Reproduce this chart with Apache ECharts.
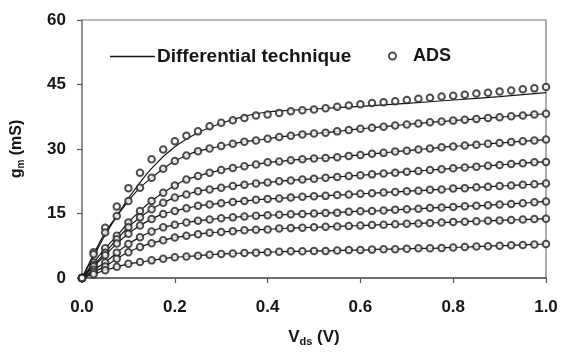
<!DOCTYPE html>
<html>
<head>
<meta charset="utf-8">
<script src="https://cdn.jsdelivr.net/npm/echarts@6/dist/echarts.min.js"></script>
<style>
  html, body { margin: 0; padding: 0; background: #fff; }
  #chart { width: 561px; height: 352px; }
</style>
</head>
<body>
<div id="chart"></div>
<script>
// Vds sample points (V), ADS markers every 0.025 V
const vds = [0, 0.025, 0.05, 0.075, 0.1, 0.125, 0.15, 0.175, 0.2, 0.225, 0.25, 0.275, 0.3, 0.325, 0.35, 0.375, 0.4, 0.425, 0.45, 0.475, 0.5,
             0.525, 0.55, 0.575, 0.6, 0.625, 0.65, 0.675, 0.7, 0.725, 0.75, 0.775, 0.8, 0.825, 0.85, 0.875, 0.9, 0.925, 0.95, 0.975, 1.0];

// ADS gm (mS), one array per gate bias (top to bottom)
const ads1 = [0, 6.0, 11.7, 16.6, 20.9, 24.5, 27.6, 29.9, 31.8, 33.1, 34.1, 35.3, 36.1, 36.7, 37.2, 37.8, 38.0, 38.4, 38.8, 39.0, 39.2,
              39.5, 39.8, 40.1, 40.4, 40.7, 40.9, 41.1, 41.4, 41.7, 41.9, 42.2, 42.4, 42.6, 42.9, 43.1, 43.4, 43.6, 43.9, 44.1, 44.4];
const ads2 = [0, 5.5, 10.6, 14.4, 17.9, 21.0, 23.3, 25.4, 27.2, 28.5, 29.5, 30.1, 30.7, 31.2, 31.7, 32.0, 32.4, 32.8, 33.1, 33.4, 33.6,
              33.8, 34.1, 34.4, 34.7, 34.95, 35.2, 35.45, 35.7, 35.95, 36.2, 36.4, 36.6, 36.8, 37.0, 37.2, 37.4, 37.6, 37.8, 38.0, 38.2];
const ads3 = [0, 3.6, 6.9, 9.8, 12.9, 15.6, 17.9, 19.8, 21.5, 22.9, 23.7, 24.5, 25.1, 25.6, 26.0, 26.4, 26.9, 27.1, 27.4, 27.6, 27.8,
              27.9, 28.1, 28.4, 28.6, 28.9, 29.1, 29.4, 29.6, 29.9, 30.1, 30.4, 30.6, 30.8, 31.0, 31.2, 31.4, 31.6, 31.8, 32.0, 32.2];
const ads4 = [0, 3.0, 5.9, 9.0, 11.8, 14.1, 16.0, 17.5, 18.7, 19.4, 20.2, 20.6, 21.0, 21.4, 21.7, 22.0, 22.2, 22.5, 22.7, 22.9, 23.1,
              23.3, 23.5, 23.7, 23.9, 24.1, 24.3, 24.5, 24.7, 24.9, 25.1, 25.3, 25.5, 25.7, 25.9, 26.1, 26.3, 26.5, 26.7, 26.9, 27.0];
const ads5 = [0, 2.7, 5.3, 8.0, 10.3, 12.2, 13.7, 14.9, 15.6, 16.2, 16.8, 17.1, 17.4, 17.7, 17.9, 18.2, 18.4, 18.5, 18.7, 18.9, 19.0,
              19.1, 19.3, 19.4, 19.6, 19.7, 19.9, 20.0, 20.2, 20.3, 20.5, 20.6, 20.8, 20.9, 21.1, 21.2, 21.4, 21.5, 21.7, 21.8, 22.0];
const ads6 = [0, 1.9, 3.6, 5.9, 7.9, 9.5, 10.8, 11.8, 12.4, 12.9, 13.3, 13.6, 13.9, 14.1, 14.3, 14.5, 14.6, 14.7, 14.8, 14.9, 15.0,
              15.1, 15.2, 15.4, 15.5, 15.6, 15.7, 15.9, 16.0, 16.1, 16.3, 16.4, 16.5, 16.7, 16.8, 16.9, 17.1, 17.2, 17.4, 17.6, 17.8];
const ads7 = [0, 1.4, 2.7, 4.5, 6.0, 7.2, 8.1, 8.8, 9.4, 9.8, 10.2, 10.5, 10.7, 10.9, 11.1, 11.2, 11.3, 11.5, 11.6, 11.7, 11.8,
              11.9, 12.0, 12.1, 12.2, 12.3, 12.4, 12.5, 12.6, 12.7, 12.8, 12.9, 13.0, 13.1, 13.2, 13.3, 13.4, 13.5, 13.6, 13.7, 13.8];
const ads8 = [0, 0.9, 1.8, 2.6, 3.3, 3.7, 4.1, 4.5, 4.8, 5.0, 5.2, 5.4, 5.6, 5.7, 5.8, 5.9, 6.0, 6.1, 6.2, 6.2, 6.3,
              6.3, 6.4, 6.5, 6.5, 6.6, 6.7, 6.7, 6.8, 6.9, 6.9, 7.0, 7.1, 7.2, 7.3, 7.4, 7.5, 7.6, 7.7, 7.8, 7.9];

// Differential technique curves: top curve read separately, others follow the ADS points
const lineX1 = [0, 0.025, 0.05, 0.1, 0.15, 0.2, 0.25, 0.3, 0.35, 0.4, 0.5, 0.6, 0.7, 0.8, 0.9, 1.0];
const diff1  = [0, 5.0, 10.0, 18.5, 25.5, 30.5, 33.8, 36.0, 37.6, 38.6, 39.3, 39.9, 40.6, 41.4, 42.2, 43.1];

const xTicks = [0, 0.2, 0.4, 0.6, 0.8, 1.0];
const yTicks = [0, 15, 30, 45, 60];

const adsSets = [ads1, ads2, ads3, ads4, ads5, ads6, ads7, ads8];
const lineSets = [[lineX1, diff1], [vds, ads2], [vds, ads3], [vds, ads4], [vds, ads5], [vds, ads6], [vds, ads7], [vds, ads8]];

const INK = '#161616';
const MARK = '#222';
const FONT = 'Liberation Sans, Arial, sans-serif';
const pair = (xs, ys) => xs.map((x, i) => [x, ys[i]]);

const series = [];
lineSets.forEach(([xs, ys]) => {
  series.push({
    name: 'Differential technique', type: 'line', data: pair(xs, ys),
    smooth: 0.3, showSymbol: false, symbol: 'none',
    lineStyle: { color: INK, width: 1.2 }, itemStyle: { color: INK },
    z: 2, silent: true, animation: false
  });
});
adsSets.forEach(ys => {
  series.push({
    name: 'ADS', type: 'scatter', data: pair(vds, ys),
    symbol: 'emptyCircle', symbolSize: 6.5,
    itemStyle: { color: MARK, borderColor: MARK, borderWidth: 1.5 },
    z: 3, silent: true, animation: false
  });
});

const chart = echarts.init(document.getElementById('chart'), null, { renderer: 'canvas' });
chart.setOption({
  animation: false,
  backgroundColor: '#fff',
  grid: { left: 82, right: 15, top: 20, bottom: 73, show: true, borderColor: '#777', borderWidth: 1.2, backgroundColor: 'transparent' },
  legend: [
    {
      data: [{ name: 'Differential technique', icon: 'rect', itemStyle: { color: INK } }],
      left: 105, top: 42, itemWidth: 45, itemHeight: 1.5, itemGap: 5,
      textStyle: { color: INK, fontFamily: FONT, fontWeight: 'bold', fontSize: 19, padding: [0, 0, 0, -3] }
    },
    {
      data: [{ name: 'ADS', icon: 'emptyCircle', itemStyle: { color: MARK, borderColor: MARK, borderWidth: 1.5 } }],
      left: 383, top: 42, itemWidth: 7, itemHeight: 7, itemGap: 5,
      textStyle: { color: INK, fontFamily: FONT, fontWeight: 'bold', fontSize: 18, padding: [0, 0, 0, 12] }
    }
  ],
  xAxis: {
    type: 'value', min: xTicks[0], max: xTicks[xTicks.length - 1], interval: 0.2,
    axisLine: { show: true, lineStyle: { color: '#555', width: 1.5 } },
    axisTick: { show: true, length: 5, lineStyle: { color: '#555', width: 1.2 } },
    axisLabel: { color: INK, fontFamily: FONT, fontWeight: 'bold', fontSize: 17, margin: 21, formatter: v => v.toFixed(1) },
    splitLine: { show: false },
    name: '{v|V}{s|ds}{v| (V)}', nameLocation: 'middle', nameGap: 50,
    nameTextStyle: {
      rich: {
        v: { color: INK, fontFamily: FONT, fontWeight: 'bold', fontSize: 17 },
        s: { color: INK, fontFamily: FONT, fontWeight: 'bold', fontSize: 11, verticalAlign: 'bottom', padding: [8, 0, 0, 0] }
      }
    }
  },
  yAxis: {
    type: 'value', min: yTicks[0], max: yTicks[yTicks.length - 1], interval: 15,
    axisLine: { show: true, lineStyle: { color: '#888', width: 1.5 } },
    axisTick: { show: true, length: 5, lineStyle: { color: '#555', width: 1.2 } },
    axisLabel: { color: INK, fontFamily: FONT, fontWeight: 'bold', fontSize: 17, margin: 16 },
    splitLine: { show: false },
    name: '{v|g}{s|m}{v| (mS)}', nameLocation: 'middle', nameGap: 56, nameRotate: 90,
    nameTextStyle: {
      rich: {
        v: { color: INK, fontFamily: FONT, fontWeight: 'bold', fontSize: 16 },
        s: { color: INK, fontFamily: FONT, fontWeight: 'bold', fontSize: 10, padding: [8, 0, 0, 0] }
      }
    }
  },
  series: series
});
</script>
</body>
</html>
